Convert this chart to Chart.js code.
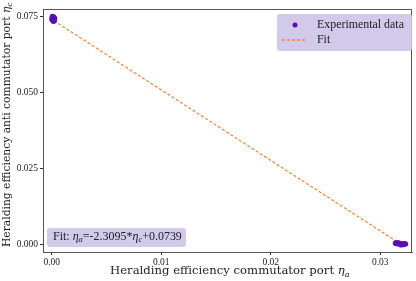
<!DOCTYPE html>
<html>
<head>
<meta charset="utf-8">
<script src="https://cdn.jsdelivr.net/npm/chart.js@4.4.1/dist/chart.umd.min.js"></script>
<style>
  html, body { margin: 0; padding: 0; background: #fff; }
  #wrap { width: 416px; height: 281px; }
</style>
</head>
<body>
<div id="wrap"><canvas id="chart" width="416" height="281"></canvas></div>
<script>
const etaA = [0.00005, 0.00012, 0.0002, 0.00008, 0.00015, 0.00025, 0.0001, 0.00018, 0.00003, 0.00022,
              0.0318, 0.0320, 0.0316, 0.0322, 0.0319, 0.0314, 0.0321, 0.0317, 0.0323, 0.0315];
const etaC = [0.0745, 0.0740, 0.0736, 0.0748, 0.0733, 0.0742, 0.0738, 0.0746, 0.0739, 0.0735,
              0.0005, 0.0003, 0.0007, 0.0004, 0.0001, 0.0006, 0.0002, 0.0004, 0.0003, 0.0005];
const fitX = [0.0002, 0.0318];
const fitY = [0.07344, 0.00046];
const xTicks = [0, 0.01, 0.02, 0.03];
const yTicks = [0, 0.025, 0.05, 0.075];
const fitText = ['Fit: ', 'η', 'a', '=-2.3095*', 'η', 'c', '+0.0739'];
const xTitle = ['Heralding efficiency commutator port ', 'η', 'a'];
const yTitle = ['Heralding efficiency anti commutator port ', 'η', 'c'];

const SERIF = '"Liberation Serif", "DejaVu Serif", serif';
const WIDE = '"DejaVu Serif", serif';
const PURPLE = '#5a0fb4';
const ORANGE = '#ff8033';
const BOXBG = 'rgba(205,196,232,0.9)';

// 'η' is italic and the piece right after it becomes a subscript
function fontFor(parts, i, size, fam) {
  const p = parts[i];
  const sub = i > 0 && parts[i - 1] === 'η';
  if (p === 'η') return [`italic ${size}px ${fam}`, false];
  if (sub) return [`italic ${size * 0.7}px ${fam}`, true];
  return [`${size}px ${fam}`, false];
}
function mathText(ctx, parts, x, y, size, fam) {
  let cx = x;
  for (let i = 0; i < parts.length; i++) {
    const [f, sub] = fontFor(parts, i, size, fam);
    ctx.font = f;
    ctx.fillText(parts[i], cx, sub ? y + size * 0.25 : y);
    cx += ctx.measureText(parts[i]).width;
  }
}
function mathWidth(ctx, parts, size, fam) {
  let w = 0;
  for (let i = 0; i < parts.length; i++) {
    ctx.font = fontFor(parts, i, size, fam)[0];
    w += ctx.measureText(parts[i]).width;
  }
  return w;
}
function sizeFor(ctx, parts, target, fam) {
  return 10 * target / mathWidth(ctx, parts, 10, fam);
}
function roundRect(ctx, x, y, w, h, r) {
  ctx.beginPath();
  ctx.moveTo(x + r, y);
  ctx.arcTo(x + w, y, x + w, y + h, r);
  ctx.arcTo(x + w, y + h, x, y + h, r);
  ctx.arcTo(x, y + h, x, y, r);
  ctx.arcTo(x, y, x + w, y, r);
  ctx.closePath();
}

const decor = {
  id: 'decor',
  afterDraw(chart) {
    const ctx = chart.ctx;
    const a = chart.chartArea;
    ctx.save();
    // top and right spines
    ctx.strokeStyle = '#555';
    ctx.lineWidth = 1;
    ctx.beginPath();
    ctx.moveTo(a.left, a.top + 0.5);
    ctx.lineTo(a.right - 0.5, a.top + 0.5);
    ctx.lineTo(a.right - 0.5, a.bottom);
    ctx.stroke();

    // legend
    roundRect(ctx, 277, 14, 135, 37, 3);
    ctx.fillStyle = BOXBG;
    ctx.fill();
    ctx.fillStyle = PURPLE;
    ctx.beginPath();
    ctx.arc(295, 25, 2.5, 0, Math.PI * 2);
    ctx.fill();
    ctx.strokeStyle = ORANGE;
    ctx.setLineDash([3, 2]);
    ctx.lineWidth = 1.5;
    ctx.beginPath();
    ctx.moveTo(282, 40);
    ctx.lineTo(307, 40);
    ctx.stroke();
    ctx.setLineDash([]);
    ctx.fillStyle = '#222';
    const ls = sizeFor(ctx, ['Experimental data'], 87, SERIF);
    ctx.font = `${ls}px ${SERIF}`;
    ctx.textBaseline = 'middle';
    ctx.fillText('Experimental data', 317, 25);
    ctx.fillText('Fit', 317, 40);

    // fit annotation
    const fs = sizeFor(ctx, fitText, 129, SERIF);
    roundRect(ctx, 47, 228, 139, 19, 3);
    ctx.fillStyle = BOXBG;
    ctx.fill();
    ctx.fillStyle = '#222';
    mathText(ctx, fitText, 53, 237, fs, SERIF);

    // axis titles
    ctx.textBaseline = 'alphabetic';
    const xs = sizeFor(ctx, xTitle, 240, WIDE);
    mathText(ctx, xTitle, 110, 274, xs, WIDE);
    const ys = sizeFor(ctx, yTitle, 245, WIDE);
    ctx.translate(9.5, 247);
    ctx.rotate(-Math.PI / 2);
    mathText(ctx, yTitle, 0, 0, ys, WIDE);
    ctx.restore();
  }
};

const tickFont = { family: SERIF, size: 9.5 };

new Chart(document.getElementById('chart'), {
  type: 'scatter',
  data: {
    datasets: [
      {
        label: 'Experimental data',
        data: etaA.map((x, i) => ({ x, y: etaC[i] })),
        backgroundColor: PURPLE,
        borderColor: PURPLE,
        pointRadius: 2.8,
        borderWidth: 0
      },
      {
        label: 'Fit',
        type: 'line',
        data: fitX.map((x, i) => ({ x, y: fitY[i] })),
        borderColor: ORANGE,
        borderDash: [3, 2],
        borderWidth: 1.2,
        pointRadius: 0,
        fill: false
      }
    ]
  },
  options: {
    responsive: false,
    animation: false,
    layout: { padding: { top: 9, right: 1, left: 0, bottom: 0 } },
    plugins: { legend: { display: false }, tooltip: { enabled: false } },
    scales: {
      x: {
        type: 'linear',
        min: -0.0008,
        max: 0.0329,
        afterBuildTicks(s) { s.ticks = xTicks.map(v => ({ value: v })); },
        afterFit(s) { s.height = 29; },
        ticks: { font: tickFont, color: '#222', padding: 2, callback: v => v.toFixed(2) },
        grid: { drawOnChartArea: false, drawTicks: true, tickLength: 3, tickColor: '#333' },
        border: { display: true, color: '#555' }
      },
      y: {
        type: 'linear',
        min: -0.0023,
        max: 0.0773,
        afterBuildTicks(s) { s.ticks = yTicks.map(v => ({ value: v })); },
        afterFit(s) { s.width = 43; },
        ticks: { font: tickFont, color: '#222', padding: 2, callback: v => v.toFixed(3) },
        grid: { drawOnChartArea: false, drawTicks: true, tickLength: 3, tickColor: '#333' },
        border: { display: true, color: '#555' }
      }
    }
  },
  plugins: [decor]
});
</script>
</body>
</html>
